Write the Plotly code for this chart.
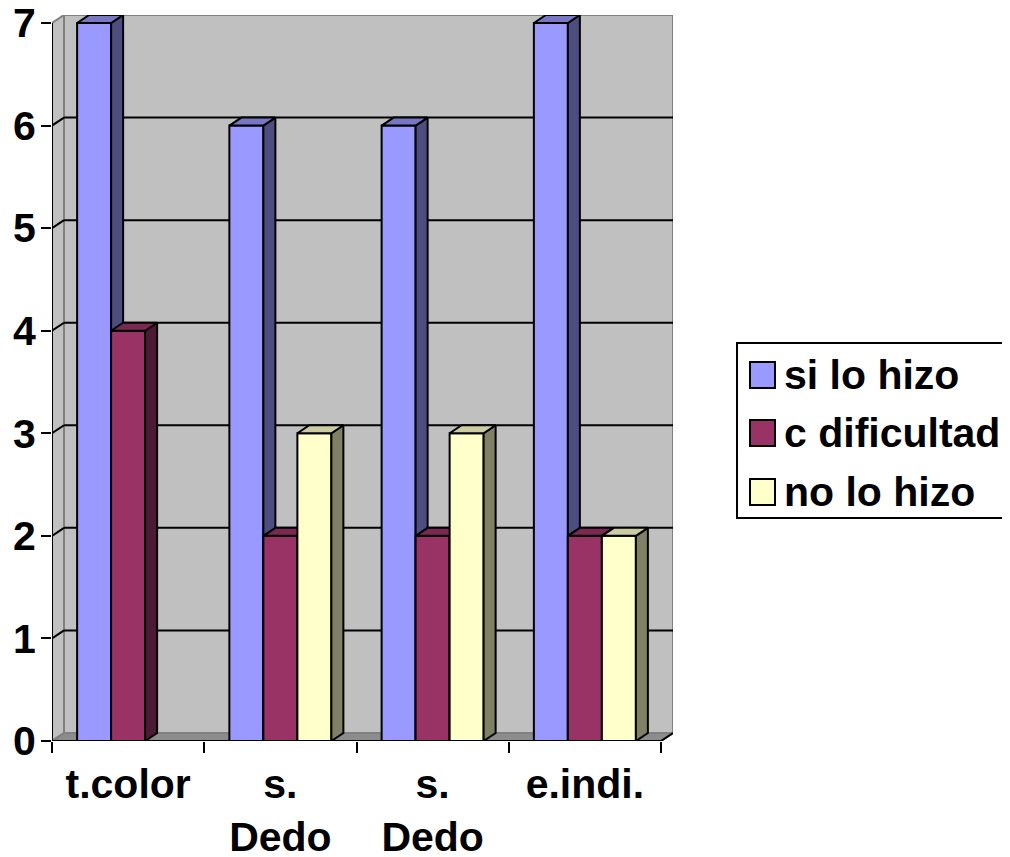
import plotly.graph_objects as go

# ---------------- data ----------------
categories = ["t.color", "s. Dedo", "s. Dedo", "e.indi."]
tick_text = ["t.color", "s.<br>Dedo", "s.<br>Dedo", "e.indi."]
series_names = ["si lo hizo", "c dificultad", "no lo hizo"]
si_lo_hizo = [7, 6, 6, 7]
c_dificultad = [4, 2, 2, 2]
no_lo_hizo = [0, 3, 3, 2]
y_ticks = [0, 1, 2, 3, 4, 5, 6, 7]

# ---------------- style ----------------
front_colors = ["#9999FF", "#993366", "#FFFFCC"]
side_colors = ["#4D4D80", "#4D1A33", "#808066"]
top_colors = ["#7777C4", "#7A2952", "#CCCCA3"]
FONT = "Arial, 'Liberation Sans', sans-serif"
FS = 41

# page body has an 8px default margin -> compensate
OFF = 8
PAGE_W, PAGE_H = 1010, 857
PL, PT, PR, PB = 52, 15, 673, 741  # plot area in page pixels
W, H = PAGE_W - OFF, PAGE_H - OFF
L, T = PL - OFF, PT - OFF
R, B = PAGE_W - PR, PAGE_H - PB
plot_w = PR - PL
plot_h = PB - PT
ymax = 7
# 3D depth offsets (in data units)
px_per_cat = 152.25
px_per_unit = 102.57
dx = 12 / px_per_cat
dy = 8 / px_per_unit
gap = 0.33
bw = (1 - gap) / 3

fig = go.Figure()

values = [si_lo_hizo, c_dificultad, no_lo_hizo]
for s, vals in enumerate(values):
    fx, fy, sx, sy, tx, ty = [], [], [], [], [], []
    for i, v in enumerate(vals):
        if v <= 0:
            continue
        x0 = i - (1 - gap) / 2 + s * bw
        x1 = x0 + bw
        fx += [x0, x1, x1, x0, x0, None]
        fy += [0, 0, v, v, 0, None]
        sx += [x1, x1 + dx, x1 + dx, x1, x1, None]
        sy += [0, dy, v + dy, v, 0, None]
        tx += [x0, x1, x1 + dx, x0 + dx, x0, None]
        ty += [v, v, v + dy, v + dy, v, None]
    for xs, ys, col in [(fx, fy, front_colors[s]), (sx, sy, side_colors[s]), (tx, ty, top_colors[s])]:
        fig.add_trace(go.Scatter(
            x=xs, y=ys, mode="lines", fill="toself", fillcolor=col,
            line=dict(color="black", width=2), hoverinfo="skip", showlegend=False,
            name=series_names[s]))

shapes = []
# back wall
shapes.append(dict(type="rect", xref="x", yref="y", x0=-0.5 + dx, x1=3.5 + dx, y0=dy, y1=ymax + dy,
                   fillcolor="#C0C0C0", line=dict(color="#808080", width=2), layer="below"))
# left wall
shapes.append(dict(type="path", xref="x", yref="y",
                   path=f"M {-0.5},0 L {-0.5+dx},{dy} L {-0.5+dx},{ymax+dy} L {-0.5},{ymax} Z",
                   fillcolor="#C0C0C0", line=dict(color="#808080", width=2), layer="below"))
# floor
shapes.append(dict(type="path", xref="x", yref="y",
                   path=f"M {-0.5},0 L 3.5,0 L {3.5+dx},{dy} L {-0.5+dx},{dy} Z",
                   fillcolor="#8C8C8C", line=dict(color="#808080", width=2), layer="below"))
# gridlines
for k in y_ticks[1:-1]:
    shapes.append(dict(type="line", xref="x", yref="y", x0=-0.5 + dx, x1=3.5 + dx, y0=k + dy, y1=k + dy,
                       line=dict(color="black", width=2), layer="below"))
    shapes.append(dict(type="line", xref="x", yref="y", x0=-0.5, x1=-0.5 + dx, y0=k, y1=k + dy,
                       line=dict(color="black", width=2), layer="below"))
# axis lines
shapes.append(dict(type="line", xref="x", yref="y", x0=-0.5, x1=-0.5, y0=0, y1=ymax,
                   line=dict(color="black", width=2), layer="below"))
shapes.append(dict(type="line", xref="x", yref="y", x0=-0.5, x1=3.5, y0=0, y1=0,
                   line=dict(color="black", width=2), layer="below"))
shapes.append(dict(type="line", xref="x", yref="y", x0=3.5, x1=3.5 + dx, y0=0, y1=dy,
                   line=dict(color="black", width=2), layer="below"))


def px_x(p):
    return (p - PL) / plot_w


def px_y(p):
    return (PB - p) / plot_h


# manual legend
shapes.append(dict(type="rect", xref="paper", yref="paper", x0=px_x(737), x1=px_x(1007),
                   y0=px_y(518), y1=px_y(343), line=dict(color="black", width=2), fillcolor="white"))
annotations = []
row_tops = [362, 420, 479]
for s, name in enumerate(series_names):
    t = row_tops[s]
    shapes.append(dict(type="rect", xref="paper", yref="paper", x0=px_x(750), x1=px_x(775),
                       y0=px_y(t + 26), y1=px_y(t), fillcolor=front_colors[s],
                       line=dict(color="black", width=2)))
    annotations.append(dict(xref="paper", yref="paper", x=px_x(782), y=px_y(t + 13),
                            xanchor="left", yanchor="middle", text=name, showarrow=False,
                            font=dict(family=FONT, size=FS, color="black", weight="bold")))

fig.update_layout(
    width=W, height=H,
    margin=dict(l=L, r=R, t=T, b=B, pad=0, autoexpand=False),
    paper_bgcolor="white", plot_bgcolor="white",
    showlegend=False,
    shapes=shapes, annotations=annotations,
    xaxis=dict(range=[-0.5, 3.5 + dx], tickvals=[0, 1, 2, 3], ticktext=tick_text,
               ticks="", showgrid=False, zeroline=False, showline=False, automargin=False,
               tickfont=dict(family=FONT, size=FS, color="black", weight="bold"),
               ticklabelstandoff=15, ticklabeloverflow="allow",
               minor=dict(tickmode="array", tickvals=[-0.5, 0.5, 1.5, 2.5, 3.5], ticks="outside",
                          ticklen=11, tickwidth=2, tickcolor="black", showgrid=False),
               fixedrange=True),
    yaxis=dict(range=[0, ymax + dy], tickvals=y_ticks, ticks="outside", ticklen=10, tickwidth=2,
               tickcolor="black", showgrid=False, zeroline=False, showline=False, automargin=False,
               tickfont=dict(family=FONT, size=FS, color="black", weight="bold"),
               ticklabelstandoff=-3, ticklabeloverflow="allow",
               fixedrange=True),
)

fig.write_html("out.html")
